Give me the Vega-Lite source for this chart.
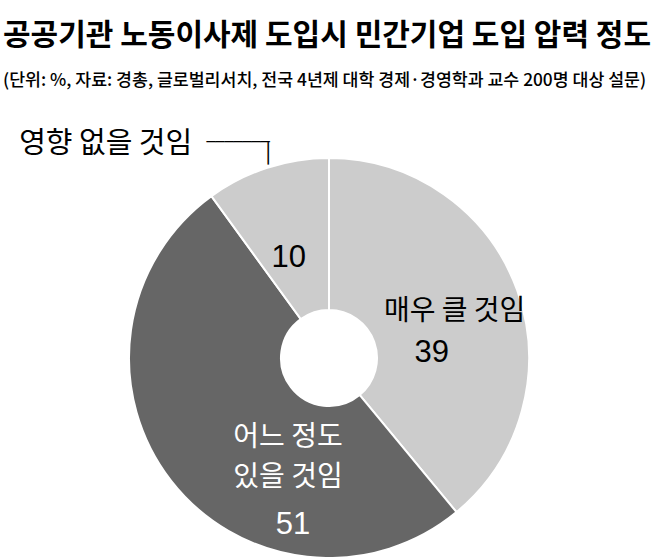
{
  "$schema": "https://vega.github.io/schema/vega-lite/v6.json",
  "width": 600,
  "height": 398,
  "autosize": "none",
  "padding": {"left": 29, "top": 159, "right": 23, "bottom": 0},
  "background": "white",
  "title": {
    "text": "공공기관 노동이사제 도입시 민간기업 도입 압력 정도",
    "subtitle": "(단위: %, 자료: 경총, 글로벌리서치, 전국 4년제 대학 경제·경영학과 교수 200명 대상 설문)",
    "anchor": "start",
    "frame": "group",
    "dx": -26,
    "offset": 41,
    "font": "Noto Sans CJK KR",
    "fontSize": 30,
    "fontWeight": "bold",
    "color": "black",
    "subtitleFont": "Noto Sans CJK KR",
    "subtitleFontSize": 17.3,
    "subtitleFontWeight": 500,
    "subtitleColor": "black",
    "subtitlePadding": 21
  },
  "config": {"view": {"stroke": null}},
  "data": {
    "values": [
      {"category": "매우 클 것임", "value": 39},
      {"category": "어느 정도 있을 것임", "value": 51},
      {"category": "영향 없을 것임", "value": 10}
    ]
  },
  "encoding": {
    "theta": {"field": "value", "type": "quantitative", "stack": true},
    "order": {"field": "category", "type": "ordinal", "sort": "ascending"}
  },
  "layer": [
    {
      "mark": {"type": "arc", "outerRadius": 200, "innerRadius": 48, "stroke": "white", "strokeWidth": 2},
      "encoding": {
        "color": {
          "field": "category",
          "type": "nominal",
          "scale": {
            "domain": ["매우 클 것임", "어느 정도 있을 것임", "영향 없을 것임"],
            "range": ["#cccccc", "#666666", "#cccccc"]
          },
          "legend": null
        }
      }
    },
    {
      "mark": {"type": "text", "radius": 124, "dx": 9, "dy": -4, "font": "Noto Sans CJK KR", "fontSize": 28, "color": "black"},
      "encoding": {
        "text": {"condition": {"test": "datum.category === '매우 클 것임'", "field": "category"}, "value": ""}
      }
    },
    {
      "mark": {"type": "text", "radius": 124, "dx": -14, "dy": 37, "font": "Liberation Sans", "fontSize": 31, "color": "black"},
      "encoding": {
        "text": {"condition": {"test": "datum.category === '매우 클 것임'", "field": "value"}, "value": ""}
      }
    },
    {
      "mark": {"type": "text", "radius": 124, "dx": -2, "dy": 18, "font": "Liberation Sans", "fontSize": 31, "color": "black"},
      "encoding": {
        "text": {"condition": {"test": "datum.category === '영향 없을 것임'", "field": "value"}, "value": ""}
      }
    },
    {
      "mark": {"type": "text", "radius": 124, "dx": 57, "dy": 4, "lineHeight": 40, "font": "Noto Sans CJK KR", "fontSize": 28, "color": "white"},
      "encoding": {
        "text": {"condition": {"test": "datum.category === '어느 정도 있을 것임'", "value": ["어느 정도", "있을 것임"]}, "value": ""}
      }
    },
    {
      "mark": {"type": "text", "radius": 124, "dx": 62, "dy": 91, "font": "Liberation Sans", "fontSize": 31, "color": "white"},
      "encoding": {
        "text": {"condition": {"test": "datum.category === '어느 정도 있을 것임'", "field": "value"}, "value": ""}
      }
    },
    {
      "mark": {"type": "text", "radius": 124, "dx": -185, "dy": -96, "font": "Noto Sans CJK KR", "fontSize": 29, "color": "black"},
      "encoding": {
        "text": {"condition": {"test": "datum.category === '영향 없을 것임'", "field": "category"}, "value": ""}
      }
    },
    {
      "mark": {"type": "text", "radius": 200, "dx": -29, "dy": -26, "font": "DejaVu Sans Mono", "fontSize": 15, "color": "black"},
      "encoding": {
        "text": {"condition": {"test": "datum.category === '영향 없을 것임'", "value": "───────"}, "value": ""}
      }
    },
    {
      "mark": {"type": "text", "radius": 200, "dx": 1, "dy": -14, "font": "DejaVu Sans Mono", "fontSize": 19, "color": "black"},
      "encoding": {
        "text": {"condition": {"test": "datum.category === '영향 없을 것임'", "value": "│"}, "value": ""}
      }
    }
  ]
}
